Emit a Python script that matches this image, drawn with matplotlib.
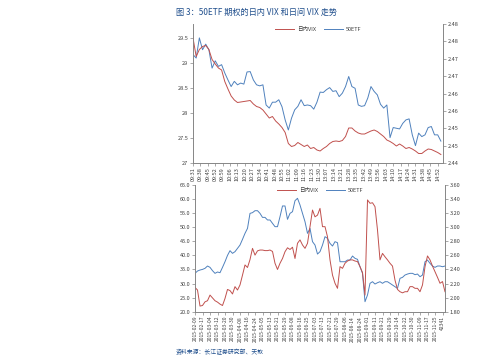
import matplotlib
matplotlib.use("Agg")
import matplotlib.pyplot as plt
import numpy as np

plt.rcParams['font.family'] = ['Noto Sans CJK SC', 'DejaVu Sans']

RED = '#C0504D'
BLUE = '#4F81BD'
AX = '#868686'
TXT = '#404040'
TITLE_C = '#1F4E8C'

# ---------------- data: top panel (intraday, every 3 minutes) ----------------
top_step = 3
top_vix = [29.50, 29.13, 29.27, 29.33, 29.35, 29.27, 29.07, 28.98, 28.90, 28.86,
           28.63, 28.48, 28.34, 28.26, 28.21, 28.22, 28.23, 28.24, 28.25, 28.18,
           28.13, 28.11, 28.06, 27.98, 27.90, 27.93, 27.84, 27.78, 27.71, 27.61,
           27.39, 27.33, 27.35, 27.41, 27.37, 27.33, 27.36, 27.29, 27.31, 27.26,
           27.24, 27.29, 27.33, 27.39, 27.43, 27.44, 27.43, 27.45, 27.53, 27.70,
           27.70, 27.64, 27.60, 27.58, 27.58, 27.61, 27.64, 27.66, 27.63, 27.58,
           27.53, 27.46, 27.43, 27.39, 27.34, 27.38, 27.34, 27.29, 27.31, 27.28,
           27.24, 27.19, 27.19, 27.24, 27.28, 27.27, 27.24, 27.21, 27.17]
top_etf = [2.4712, 2.4702, 2.4760, 2.4726, 2.4742, 2.4726, 2.4673, 2.4694, 2.4678, 2.4683,
           2.4659, 2.4639, 2.4620, 2.4635, 2.4625, 2.4630, 2.4627, 2.4662, 2.4663, 2.4639,
           2.4625, 2.4622, 2.4625, 2.4567, 2.4558, 2.4575, 2.4575, 2.4582, 2.4562, 2.4524,
           2.4495, 2.4529, 2.4553, 2.4563, 2.4582, 2.4565, 2.4567, 2.4565, 2.4555, 2.4575,
           2.4604, 2.4603, 2.4611, 2.4617, 2.4606, 2.4608, 2.4591, 2.4601, 2.4620, 2.4649,
           2.4620, 2.4615, 2.4567, 2.4563, 2.4565, 2.4587, 2.4620, 2.4606, 2.4596, 2.4569,
           2.4558, 2.4567, 2.4473, 2.4502, 2.4500, 2.4498, 2.4514, 2.4524, 2.4527, 2.4481,
           2.4450, 2.4486, 2.4476, 2.4481, 2.4502, 2.4505, 2.4481, 2.4481, 2.4463]
top_labels = ["09:31", "09:38", "09:45", "09:52", "09:59", "10:06", "10:13", "10:20",
              "10:27", "10:34", "10:41", "10:48", "10:55", "11:02", "11:09", "11:16",
              "11:23", "11:30", "13:07", "13:14", "13:21", "13:28", "13:35", "13:42",
              "13:49", "13:56", "14:03", "14:10", "14:17", "14:24", "14:31", "14:38",
              "14:45", "14:52"]
top_label_step = 7
top_n_minutes = 237
top_left_ticks = [27, 27.5, 28, 28.5, 29, 29.5]
top_left_labels = ["27", "27.5", "28", "28.5", "29", "29.5"]
top_right_ticks = [2.44, 2.445, 2.45, 2.455, 2.46, 2.465, 2.47, 2.475, 2.48]
top_right_labels = ["2.44", "2.45", "2.45", "2.46", "2.46", "2.47", "2.47", "2.48", "2.48"]

# ---------------- data: bottom panel (daily, every 2 trading days) ----------------
bot_step = 2
bot_vix = [28.6, 27.7, 22.0, 22.2, 23.5, 23.9, 25.9, 24.9, 23.9, 23.4,
           22.7, 22.2, 24.7, 27.9, 27.5, 26.3, 28.9, 27.7, 29.5, 33.0,
           36.6, 35.7, 38.5, 42.5, 40.1, 41.6, 41.9, 41.9, 41.7, 41.7,
           41.9, 41.4, 37.2, 35.0, 37.2, 38.9, 41.3, 42.7, 42.1, 42.9,
           38.9, 44.3, 45.5, 43.7, 42.5, 44.3, 50.2, 56.1, 53.7, 54.3,
           56.7, 50.2, 50.2, 46.6, 38.4, 33.0, 30.1, 28.3, 36.0, 35.4,
           37.2, 38.0, 38.4, 38.4, 38.0, 37.8, 36.0, 33.9, 25.9, 59.7,
           58.5, 58.7, 57.3, 49.0, 38.4, 40.7, 39.5, 38.4, 37.2, 36.2,
           31.2, 27.9, 27.1, 26.7, 27.1, 27.1, 28.9, 28.9, 28.3, 28.3,
           27.1, 29.5, 36.0, 39.8, 38.4, 36.2, 34.2, 32.2, 30.1, 30.7, 27.1]
bot_etf = [2.345, 2.378, 2.392, 2.401, 2.416, 2.449, 2.430, 2.383, 2.345, 2.364,
           2.354, 2.430, 2.510, 2.600, 2.667, 2.629, 2.653, 2.700, 2.747, 2.828,
           2.913, 2.984, 3.197, 3.207, 3.235, 3.235, 3.197, 3.140, 3.140, 3.103,
           3.103, 3.055, 3.008, 3.008, 3.150, 3.302, 3.302, 3.112, 3.197, 3.221,
           3.377, 3.411, 3.316, 3.197, 3.079, 2.913, 2.984, 2.795, 2.747, 2.619,
           2.653, 2.747, 2.866, 2.842, 2.771, 2.733, 2.795, 2.780, 2.510, 2.510,
           2.510, 2.534, 2.534, 2.591, 2.558, 2.544, 2.439, 2.345, 1.942, 2.037,
           2.203, 2.226, 2.193, 2.212, 2.226, 2.203, 2.226, 2.226, 2.203, 2.179,
           2.155, 2.131, 2.274, 2.288, 2.321, 2.335, 2.345, 2.345, 2.326, 2.335,
           2.297, 2.321, 2.510, 2.534, 2.487, 2.449, 2.430, 2.449, 2.449, 2.439, 2.449]
bot_labels = ["2015-02-09", "2015-02-17", "2015-03-04", "2015-03-12", "2015-03-20",
              "2015-03-30", "2015-04-08", "2015-04-16", "2015-04-24", "2015-05-05",
              "2015-05-13", "2015-05-21", "2015-05-29", "2015-06-08", "2015-06-16",
              "2015-06-25", "2015-07-03", "2015-07-13", "2015-07-21", "2015-07-29",
              "2015-08-06", "2015-08-14", "2015-08-24", "2015-09-01", "2015-09-11",
              "2015-09-21", "2015-09-29", "2015-10-14", "2015-10-22", "2015-10-30",
              "2015-11-09", "2015-11-17", "2015-11-25", "42341"]
bot_label_step = 6
bot_left_ticks = [20, 25, 30, 35, 40, 45, 50, 55, 60, 65]
bot_right_ticks = [1.8, 2.0, 2.2, 2.4, 2.6, 2.8, 3.0, 3.2, 3.4, 3.6]

series_names = ["日内VIX", "50ETF"]
title = "图 3：50ETF 期权的日内 VIX 和日间 VIX 走势"
source = "资料来源：长江证券研究部、天软"

# ---------------- figure ----------------
W, H = 499, 364
fig = plt.figure(figsize=(W / 100, H / 100), dpi=100)
fig.patch.set_facecolor('white')


def fx(px):
    return px / W


def fy(py):
    return 1 - py / H


def style_axes(ax, ax2, fs_x):
    for a in (ax, ax2):
        for s in a.spines.values():
            s.set_color(AX)
            s.set_linewidth(0.6)
        a.spines['top'].set_visible(False)
        a.tick_params(axis='both', colors=AX, labelcolor=TXT, labelsize=4,
                      length=2, width=0.5, pad=1.5)
    ax.tick_params(axis='x', labelsize=fs_x, labelrotation=90, pad=1)
    ax.patch.set_alpha(0)


# ---- top panel
ax1 = fig.add_axes([fx(193), fy(163), fx(443) - fx(193), fy(24) - fy(163)])
ax1b = ax1.twinx()
x_top = np.arange(len(top_vix)) * top_step
l1, = ax1.plot(x_top, top_vix, color=RED, lw=0.7)
l2, = ax1b.plot(x_top, top_etf, color=BLUE, lw=0.7)
ax1.set_xlim(0, top_n_minutes - 1)
ax1.set_ylim(27, 29.78)
ax1b.set_ylim(2.44, 2.48)
ax1.set_yticks(top_left_ticks)
ax1.set_yticklabels(top_left_labels)
ax1b.set_yticks(top_right_ticks)
ax1b.set_yticklabels(top_right_labels)
ax1.set_xticks(np.arange(len(top_labels)) * top_label_step)
ax1.set_xticklabels(top_labels)
style_axes(ax1, ax1b, 4)
ax1.set_zorder(ax1b.get_zorder() + 1)
ax1.legend([l1, l2], series_names, loc='upper center', bbox_to_anchor=(0.5, 1.0),
           ncol=2, frameon=False, fontsize=4, handlelength=3.5, handletextpad=0.4,
           columnspacing=1.5, borderaxespad=0.2, labelcolor=TXT)

# ---- bottom panel
ax2 = fig.add_axes([fx(195), fy(311.7), fx(445) - fx(195), fy(185) - fy(311.7)])
ax2b = ax2.twinx()
x_bot = np.arange(len(bot_vix)) * bot_step
m1, = ax2.plot(x_bot, bot_vix, color=RED, lw=0.7)
m2, = ax2b.plot(x_bot, bot_etf, color=BLUE, lw=0.7)
ax2.set_xlim(0, (len(bot_vix) - 1) * bot_step)
ax2.set_ylim(20, 65)
ax2b.set_ylim(1.8, 3.6)
ax2.set_yticks(bot_left_ticks)
ax2.set_yticklabels([f"{v:.1f}" for v in bot_left_ticks])
ax2b.set_yticks(bot_right_ticks)
ax2b.set_yticklabels([f"{v:.2f}" for v in bot_right_ticks])
ax2.set_xticks(np.arange(len(bot_labels)) * bot_label_step)
ax2.set_xticklabels(bot_labels)
style_axes(ax2, ax2b, 3.6)
ax2.set_zorder(ax2b.get_zorder() + 1)
ax2.legend([m1, m2], series_names, loc='upper center', bbox_to_anchor=(0.5, 1.0),
           ncol=2, frameon=False, fontsize=4, handlelength=3.5, handletextpad=0.4,
           columnspacing=1.5, borderaxespad=0.2, labelcolor=TXT)

fig.text(fx(176), fy(12), title, fontsize=5.9, color=TITLE_C, va='center', ha='left')
fig.text(fx(176), fy(352), source, fontsize=4.2, color=TITLE_C, va='center', ha='left')

fig.savefig("out.png", dpi=100, facecolor='white')
